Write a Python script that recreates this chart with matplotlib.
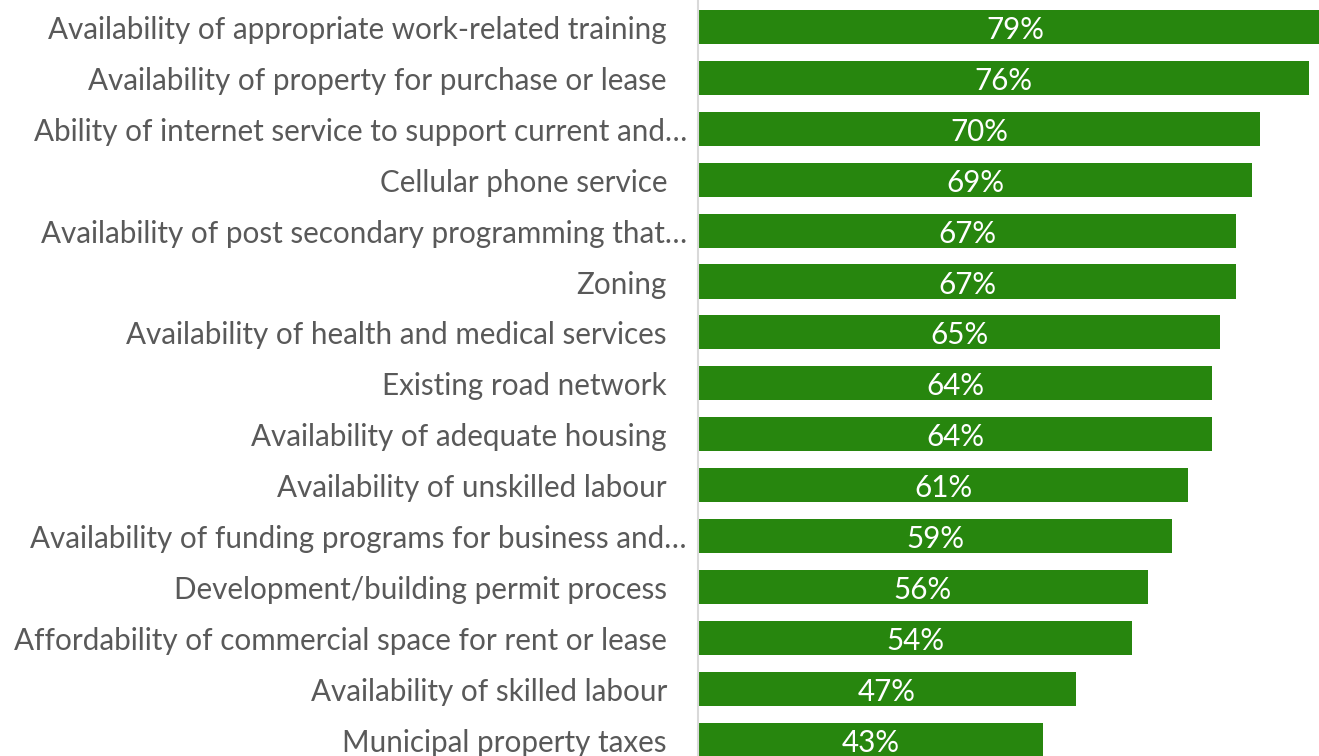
import matplotlib
matplotlib.use("Agg")
import matplotlib.pyplot as plt
from matplotlib.transforms import blended_transform_factory, offset_copy

categories = [
    "Availability of appropriate work-related training",
    "Availability of property for purchase or lease",
    "Ability of internet service to support current and\u2026",
    "Cellular phone service",
    "Availability of post secondary programming that\u2026",
    "Zoning",
    "Availability of health and medical services",
    "Existing road network",
    "Availability of adequate housing",
    "Availability of unskilled labour",
    "Availability of funding programs for business and\u2026",
    "Development/building permit process",
    "Affordability of commercial space for rent or lease",
    "Availability of skilled labour",
    "Municipal property taxes",
]
values = [79, 76, 70, 69, 67, 67, 65, 64, 64, 61, 59, 56, 54, 47, 43]
value_labels = ["79%", "76%", "70%", "69%", "67%", "67%", "65%", "64%", "64%",
                "61%", "59%", "56%", "54%", "47%", "43%"]

GREEN = "#27860E"
GREY = "#595959"
FONT = "Lato"

W, H = 1319, 756
fig = plt.figure(figsize=(W / 100, H / 100), dpi=100)
ax = fig.add_axes([698 / W, 0, 1 - 698 / W, 1])

y = list(range(len(categories)))
ax.barh(y, values, height=0.67, color=GREEN, zorder=2)

ax.set_xlim(0, 77.3)
ax.set_ylim(14.32, -0.53)

for s in ["top", "right", "bottom"]:
    ax.spines[s].set_visible(False)
ax.spines["left"].set_color("#D9D9D9")
ax.spines["left"].set_linewidth(1.5)
ax.set_xticks([])
ax.set_yticks([])

trans = blended_transform_factory(ax.transAxes, ax.transData)
for i, (cat, v, lab) in enumerate(zip(categories, values, value_labels)):
    off = -11 if cat.endswith("\u2026") else -31
    t = offset_copy(trans, fig=fig, x=off, y=-3, units="dots")
    ax.text(0, i, cat, transform=t, ha="right", va="center",
            fontsize=21.3, color=GREY, family=FONT, clip_on=False)
    t2 = offset_copy(ax.transData, fig=fig, x=0, y=-3, units="dots")
    ax.text(v / 2, i, lab, transform=t2, ha="center", va="center",
            fontsize=21.3, color="white", family=FONT)

fig.savefig("out.png", dpi=100)
